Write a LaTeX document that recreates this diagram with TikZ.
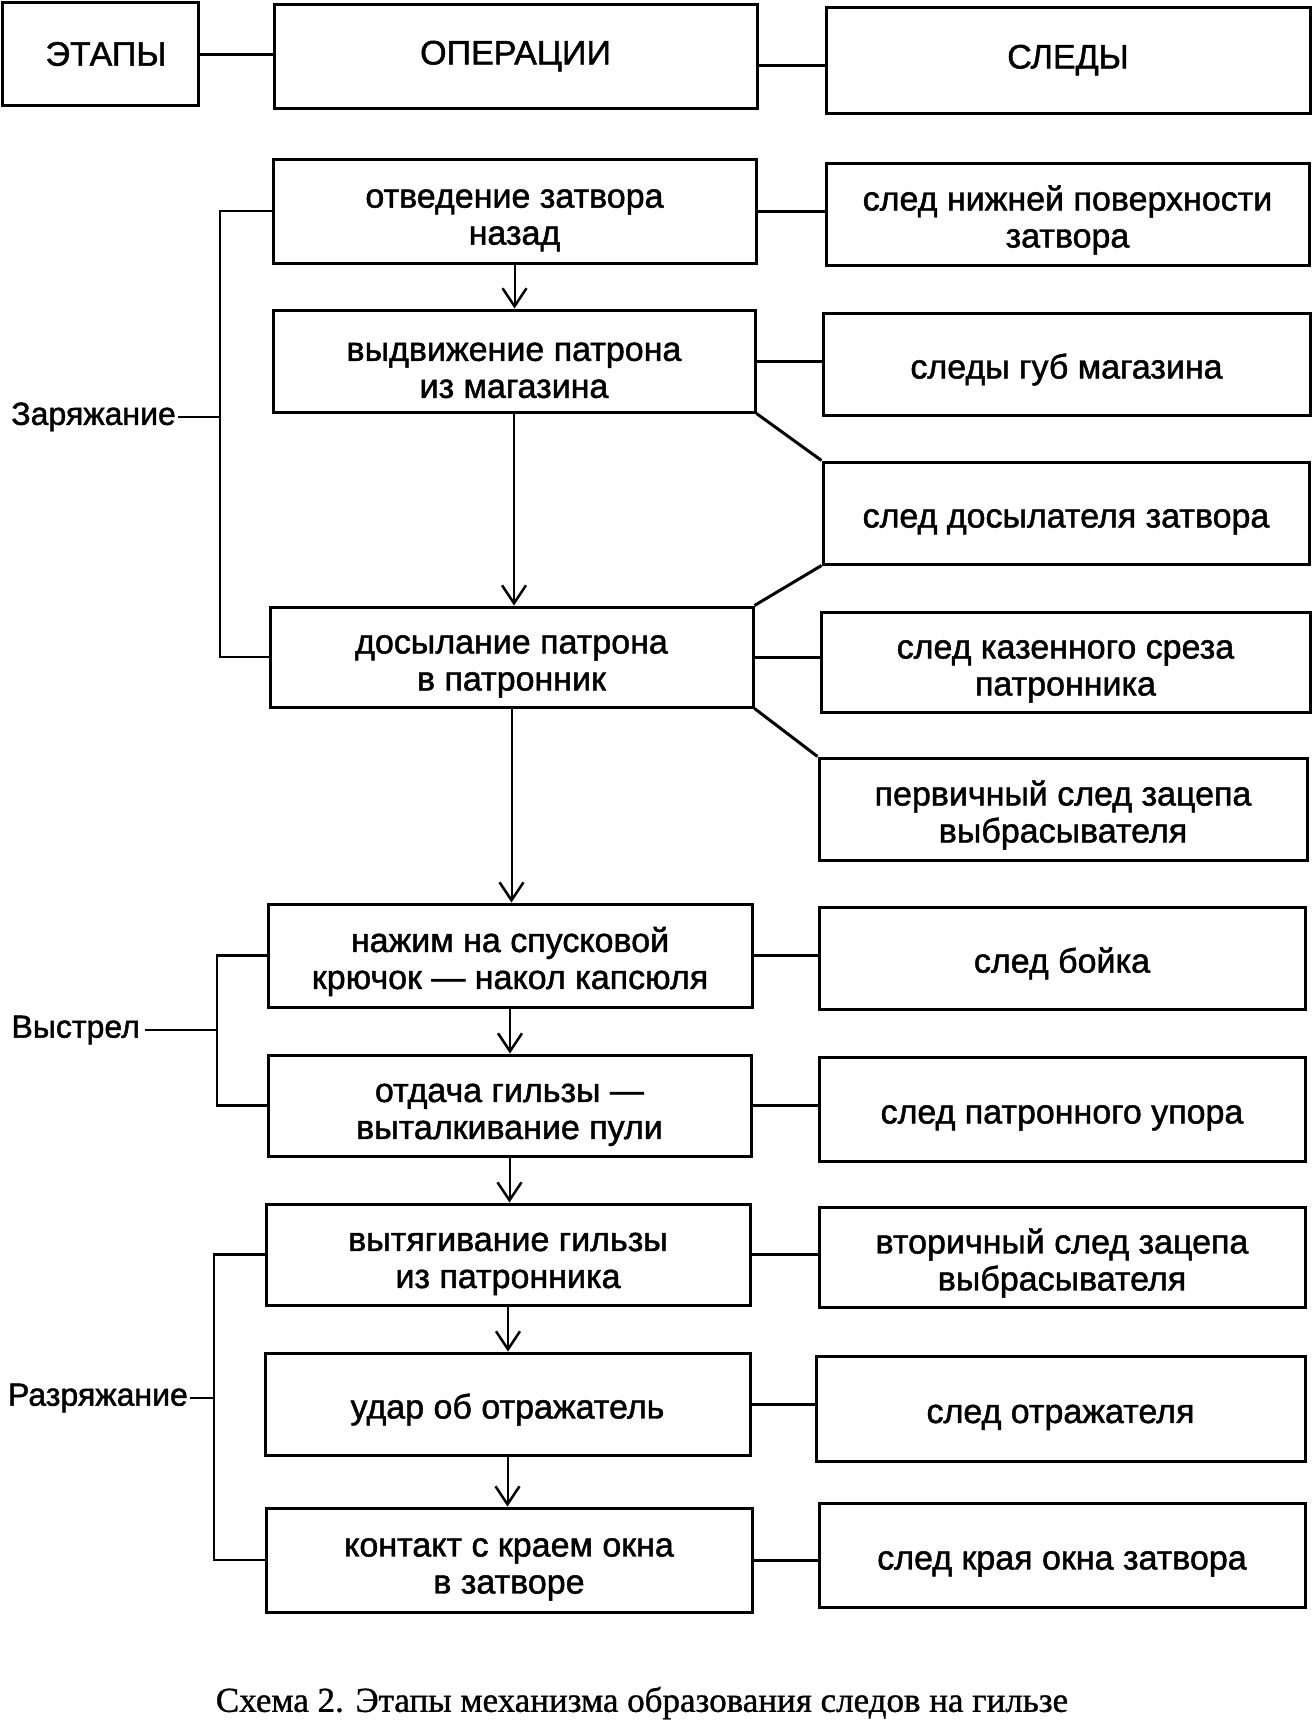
\documentclass[tikz,border=0pt]{standalone}
\usepackage{fontspec}
\setmainfont{Liberation Sans}[FakeBold=1.4]
\newfontfamily\capfont{Liberation Serif}[FakeBold=1.0]
\usetikzlibrary{arrows.meta}
\begin{document}
\begin{tikzpicture}[x=1pt,y=-1pt,
  box/.style={draw,line width=3pt,rectangle,inner sep=0pt,align=center,
    font=\fontsize{34}{37}\selectfont},
  one/.style={box,execute at begin node={\rule{0pt}{36pt}}},
  two/.style={box,execute at begin node={\rule{0pt}{74pt}}},
  lnk/.style={line width=3pt},
  flow/.style={line width=2pt,-{Straight Barb[length=18pt,width=24pt,line width=2.5pt]}},
  brk/.style={line width=2.5pt},
  lab/.style={inner sep=0pt,anchor=east,font=\fontsize{32}{37}\selectfont}]
\useasboundingbox (0,0) rectangle (1314,1722);
\fill[white] (0,0) rectangle (1314,1722);
% header
\node[box,minimum width=196pt,minimum height=103pt] (etapy) at (100,54) {\hspace*{12pt}ЭТАПЫ};
\node[box,minimum width=483pt,minimum height=104pt] (oper) at (515.5,56) {ОПЕРАЦИИ};
\node[box,minimum width=484pt,minimum height=106pt] (sledy) at (1068,60) {СЛЕДЫ};
\draw[lnk] (etapy.east) -- (etapy.east -| oper.west);
\draw[lnk] (oper.east |- 0,65) -- (sledy.west |- 0,65);
% operations
\node[two,minimum width=483pt,minimum height=104pt] (op1) at (514.5,211) {отведение затвора\\назад};
\node[two,minimum width=482pt,minimum height=102pt] (op2) at (514,361) {выдвижение патрона\\из магазина};
\node[two,minimum width=483pt,minimum height=100pt] (op3) at (511.5,657) {досылание патрона\\в патронник};
\node[two,minimum width=484pt,minimum height=103pt] (op4) at (510,955.5) {нажим на спусковой\\крючок — накол капсюля};
\node[two,minimum width=483pt,minimum height=101pt] (op5) at (509.5,1105.5) {отдача гильзы —\\выталкивание пули};
\node[two,minimum width=484pt,minimum height=101pt] (op6) at (508,1254.5) {вытягивание гильзы\\из патронника};
\node[one,minimum width=485pt,minimum height=102pt] (op7) at (507.5,1404) {удар об отражатель};
\node[two,minimum width=486pt,minimum height=104pt] (op8) at (509,1560) {контакт с краем окна\\в затворе};
% traces
\node[two,minimum width=483pt,minimum height=102pt] (tr1) at (1067.5,214) {след нижней поверхности\\затвора};
\node[one,minimum width=487pt,minimum height=102pt] (tr2) at (1066.5,364) {следы губ магазина};
\node[one,minimum width=486pt,minimum height=102pt] (tr3) at (1066,513) {след досылателя затвора};
\node[two,minimum width=489pt,minimum height=100pt] (tr4) at (1065.5,662) {след казенного среза\\патронника};
\node[two,minimum width=488pt,minimum height=102pt] (tr5) at (1063,809) {первичный след зацепа\\выбрасывателя};
\node[one,minimum width=486pt,minimum height=102pt] (tr6) at (1062,958) {след бойка};
\node[one,minimum width=486pt,minimum height=104pt] (tr7) at (1062,1109) {след патронного упора};
\node[two,minimum width=486pt,minimum height=100pt] (tr8) at (1062,1257) {вторичный след зацепа\\выбрасывателя};
\node[one,minimum width=489pt,minimum height=105pt] (tr9) at (1060.5,1408.5) {след отражателя};
\node[one,minimum width=486pt,minimum height=104pt] (tr10) at (1062,1555) {след края окна затвора};
% flow arrows
\foreach \a/\b in {op1/op2,op2/op3,op3/op4,op4/op5,op5/op6,op6/op7,op7/op8}
  \draw[flow] (\a.south) -- (\a.south |- \b.north);
% op -> trace links
\foreach \a/\b in {op1/tr1,op2/tr2,op3/tr4,op4/tr6,op5/tr7,op6/tr8,op7/tr9,op8/tr10}
  \draw[lnk] (\a.east) -- (\a.east -| \b.west);
\draw[lnk] (op2.south east) -- (tr3.north west);
\draw[lnk] (tr3.south west) -- (op3.north east);
\draw[lnk] (op3.south east) -- (tr5.north west);
% stages
\coordinate (zb) at (220,417);
\node[lab,inner xsep=2pt] (zar) at (178,417) {Заряжание};
\draw[brk] (op1.west) -| (zb) |- (op3.west);
\draw[brk] (zar.east) -- (zb);
\coordinate (vb) at (217,1030);
\node[lab,inner xsep=5pt] (vys) at (145,1030) {Выстрел};
\draw[brk] (op4.west) -| (vb) |- (op5.west);
\draw[brk] (vys.east) -- (vb);
\coordinate (rb) at (214,1398);
\node[lab,inner xsep=2pt] (raz) at (190,1398) {Разряжание};
\draw[brk] (op6.west) -| (rb) |- (op8.west);
\draw[brk] (raz.east) -- (rb);
% caption
\node[font=\capfont\fontsize{35}{40}\selectfont] (cap) at (642,1703) {Схема 2. Этапы механизма образования следов на гильзе};
\end{tikzpicture}
\end{document}
